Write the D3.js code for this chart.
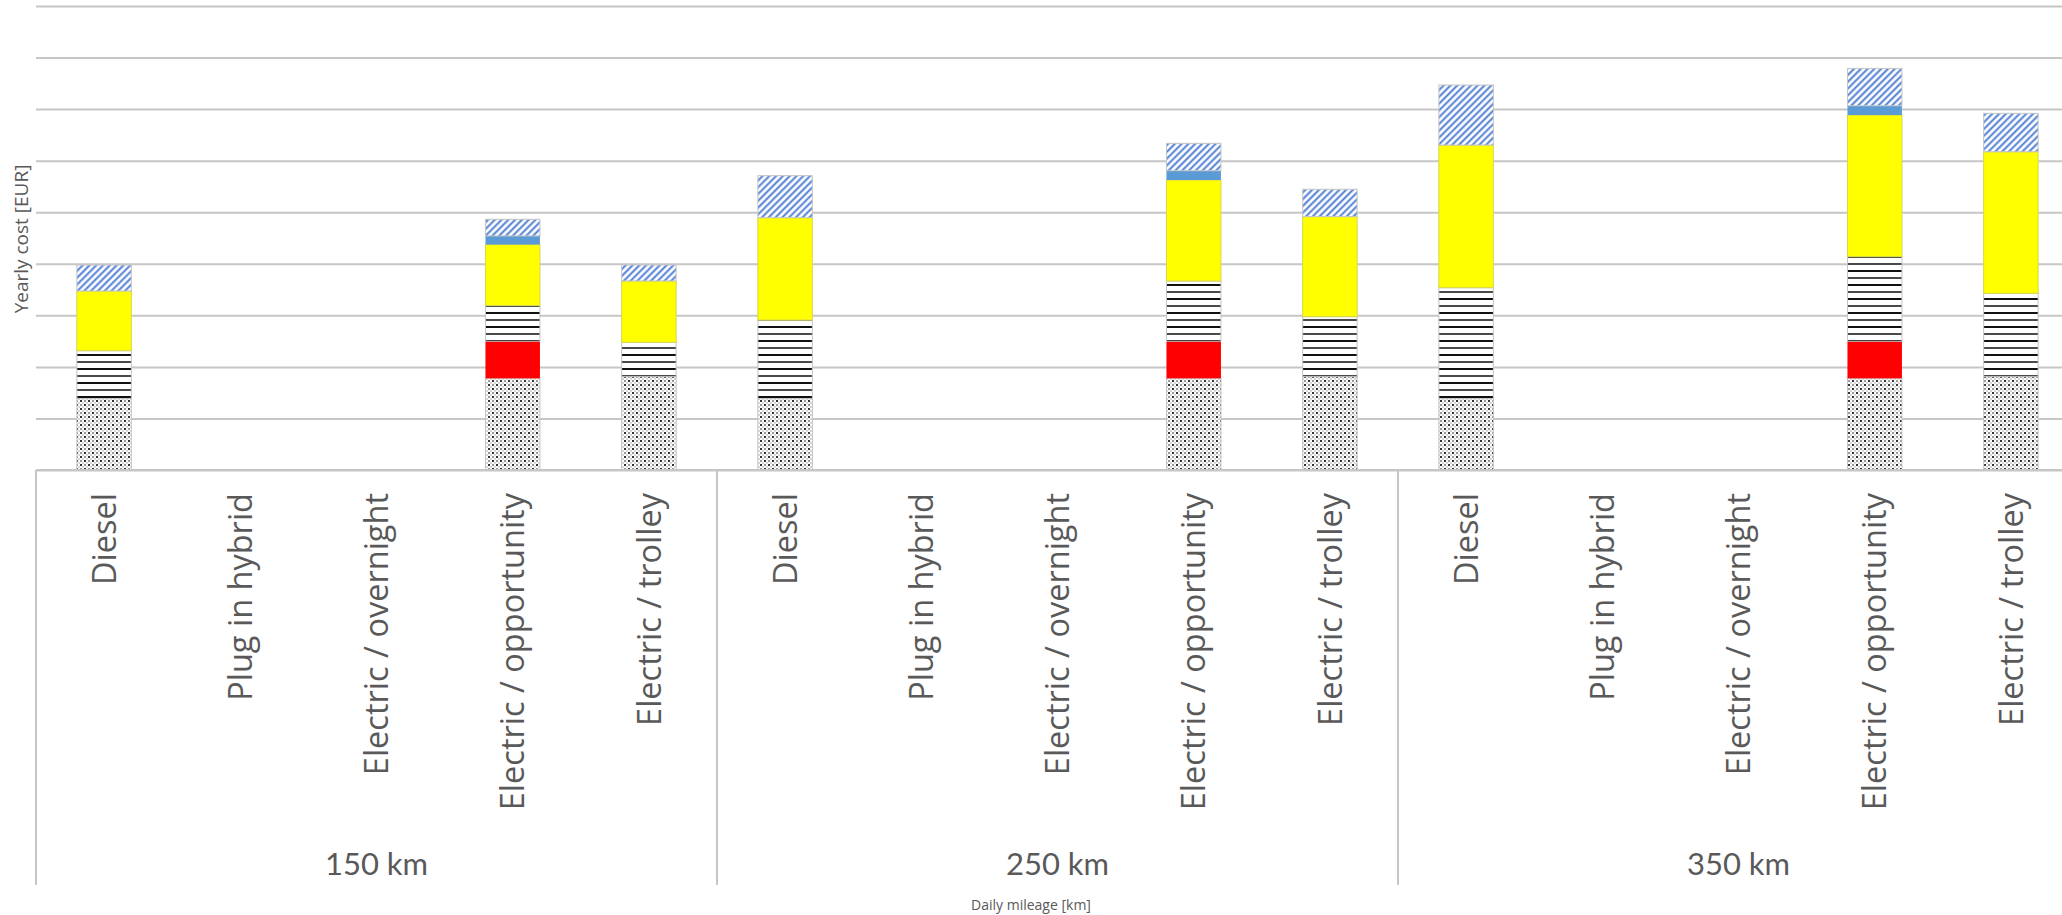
<!DOCTYPE html>
<html>
<head>
<meta charset="utf-8">
<script src="https://cdn.jsdelivr.net/npm/d3@7"></script>
<style>
  html, body { margin: 0; padding: 0; background: #fff; }
  svg { display: block; }
</style>
</head>
<body>
<svg id="chart" width="2062" height="915"></svg>
<script>
// Daily mileage groups and drivetrain options within each group
const groups = ["150 km", "250 km", "350 km"];
const drivetrains = ["Diesel", "Plug in hybrid", "Electric / overnight", "Electric / opportunity", "Electric / trolley"];

// Yearly cost components in EUR, listed group by group (5 drivetrains per group)
const vehicleCost     = [13850, 0, 0, 17780, 18100,  13850, 0, 0, 17780, 18100,  13850, 0, 0, 17780, 18100];
const chargingCost    = [    0, 0, 0,  7200,     0,      0, 0, 0,  7200,     0,      0, 0, 0,  7200,     0];
const maintenanceCost = [ 9290, 0, 0,  6920,  6670,  15240, 0, 0, 11680, 11640,  21510, 0, 0, 16390, 16170];
const energyCost      = [11580, 0, 0, 11830, 11900,  19850, 0, 0, 19590, 19400,  27670, 0, 0, 27480, 27460];
const batteryCost     = [    0, 0, 0,  1670,     0,      0, 0, 0,  1800,     0,      0, 0, 0,  1800,     0];
const otherCost       = [ 5040, 0, 0,  3230,  3100,   8150, 0, 0,  5310,  5310,  11640, 0, 0,  7250,  7450];

// Value axis gridlines (no labels are shown)
const yTicks = [0, 10000, 20000, 30000, 40000, 50000, 60000, 70000, 80000, 90000];

// stacking order, bottom to top
const seriesKeys = ["vehicle", "charging", "maintenance", "energy", "battery", "other"];
const seriesValues = {
  vehicle: vehicleCost, charging: chargingCost, maintenance: maintenanceCost,
  energy: energyCost, battery: batteryCost, other: otherCost
};

// Build one row per (group, drivetrain)
const rows = [];
groups.forEach((g, gi) => {
  drivetrains.forEach((d, di) => {
    const idx = gi * drivetrains.length + di;
    const row = { group: g, drivetrain: d };
    seriesKeys.forEach(k => { row[k] = seriesValues[k][idx]; });
    rows.push(row);
  });
});

const svg = d3.select("#chart");
const plotLeft = 36, groupWidth = 681, plotTop = 6, baseY = 470;
const plotRight = plotLeft + groupWidth * groups.length;
const textColor = "#595959";
const gridColor = "#c6c6c6";

const x0 = d3.scaleBand().domain(groups).range([plotLeft, plotRight]).padding(0);
const x1 = d3.scaleBand().domain(drivetrains).range([0, x0.bandwidth()])
  .paddingInner(0.6).paddingOuter(0.3);
const y = d3.scaleLinear().domain([0, 90000]).range([baseY, plotTop]);

// ---- fill patterns ----
const defs = svg.append("defs");

// dot screen
const pDots = defs.append("pattern").attr("id", "pat-dots")
  .attr("patternUnits", "userSpaceOnUse").attr("width", 8).attr("height", 8);
pDots.append("rect").attr("width", 8).attr("height", 8).attr("fill", "#fff");
[[1,1,1.8,"#000"],[5,5,1.8,"#000"],[5,1,1.4,"#333"],[1,5,1.4,"#333"],
 [3,3,1.1,"#777"],[7,7,1.1,"#777"],[3,7,1.1,"#777"],[7,3,1.1,"#777"]].forEach(([cx, cy, s, c]) => {
  pDots.append("rect").attr("x", cx - s / 2).attr("y", cy - s / 2)
    .attr("width", s).attr("height", s).attr("fill", c);
});

// horizontal stripes
const pStripes = defs.append("pattern").attr("id", "pat-stripes")
  .attr("patternUnits", "userSpaceOnUse").attr("width", 8).attr("height", 14);
pStripes.append("rect").attr("width", 8).attr("height", 14).attr("fill", "#fff");
pStripes.append("rect").attr("y", 4).attr("width", 8).attr("height", 2).attr("fill", "#111");
pStripes.append("rect").attr("y", 11).attr("width", 8).attr("height", 2).attr("fill", "#4a4a4a");

// light blue upward diagonal hatch
const pHatch = defs.append("pattern").attr("id", "pat-hatch")
  .attr("patternUnits", "userSpaceOnUse").attr("width", 4.8).attr("height", 4.8)
  .attr("patternTransform", "rotate(45)");
pHatch.append("rect").attr("width", 4.8).attr("height", 4.8).attr("fill", "#fff");
pHatch.append("rect").attr("x", 0).attr("width", 2.6).attr("height", 4.8).attr("fill", "#a9c0ea");
pHatch.append("rect").attr("x", 0.65).attr("width", 1.3).attr("height", 4.8).attr("fill", "#4a7bd2");

const seriesFill = {
  vehicle: "url(#pat-dots)", charging: "#ff0000", maintenance: "url(#pat-stripes)",
  energy: "#ffff00", battery: "#5b9bd5", other: "url(#pat-hatch)"
};
const seriesStroke = {
  vehicle: "#c4c4c4", charging: "none", maintenance: "#c4c4c4",
  energy: "#d6d650", battery: "none", other: "#c4c4c4"
};

// ---- gridlines ----
const gridAxis = d3.axisLeft(y).tickValues(yTicks).tickSize(-(2062 - plotLeft)).tickFormat("");
const grid = svg.append("g").attr("transform", `translate(${plotLeft},0)`).call(gridAxis);
grid.select(".domain").remove();
grid.selectAll(".tick line").attr("stroke", gridColor).attr("stroke-width", 2);

// ---- stacked bars ----
const stacked = d3.stack().keys(seriesKeys)(rows);
const layers = svg.append("g").selectAll("g").data(stacked).join("g")
  .attr("fill", d => seriesFill[d.key])
  .attr("stroke", d => seriesStroke[d.key])
  .attr("stroke-width", 1);
layers.selectAll("rect")
  .data(d => d.filter(s => s[1] - s[0] > 0))
  .join("rect")
  .attr("x", s => x0(s.data.group) + x1(s.data.drivetrain))
  .attr("width", x1.bandwidth())
  .attr("y", s => y(s[1]))
  .attr("height", s => y(s[0]) - y(s[1]));

// ---- category axis (two levels) ----
const axisG = svg.append("g");
axisG.append("line")
  .attr("x1", plotLeft).attr("x2", 2062).attr("y1", baseY).attr("y2", baseY)
  .attr("stroke", gridColor).attr("stroke-width", 2);

const sepX = groups.map(g => x0(g)).concat([plotRight]);
axisG.selectAll("line.sep").data(sepX).join("line").attr("class", "sep")
  .attr("x1", d => d).attr("x2", d => d).attr("y1", baseY).attr("y2", 885)
  .attr("stroke", gridColor).attr("stroke-width", 2);

// drivetrain labels, rotated
const catLabels = [];
groups.forEach(g => drivetrains.forEach(d => catLabels.push({ g, d })));
axisG.selectAll("text.cat").data(catLabels).join("text").attr("class", "cat")
  .attr("transform", c => `translate(${x0(c.g) + x1(c.d) + x1.bandwidth() / 2},493) rotate(-90)`)
  .attr("text-anchor", "end")
  .attr("dy", "0.36em")
  .attr("font-family", "'Open Sans', sans-serif")
  .attr("font-size", 32.5)
  .attr("fill", textColor)
  .text(c => c.d);

// mileage group labels
axisG.selectAll("text.grp").data(groups).join("text").attr("class", "grp")
  .attr("x", g => x0(g) + x0.bandwidth() / 2)
  .attr("y", 864)
  .attr("dy", "0.36em")
  .attr("text-anchor", "middle")
  .attr("font-family", "Lato, sans-serif")
  .attr("font-size", 31)
  .attr("fill", textColor)
  .text(g => g);

// axis titles
svg.append("text")
  .attr("x", 1031).attr("y", 905).attr("dy", "0.35em")
  .attr("text-anchor", "middle")
  .attr("font-family", "'Open Sans', sans-serif")
  .attr("font-size", 14)
  .attr("fill", textColor)
  .text("Daily mileage [km]");

svg.append("text")
  .attr("transform", "translate(21,239) rotate(-90)")
  .attr("dy", "0.35em")
  .attr("text-anchor", "middle")
  .attr("font-family", "'Open Sans', sans-serif")
  .attr("font-size", 19)
  .attr("fill", textColor)
  .text("Yearly cost [EUR]");
</script>
</body>
</html>
